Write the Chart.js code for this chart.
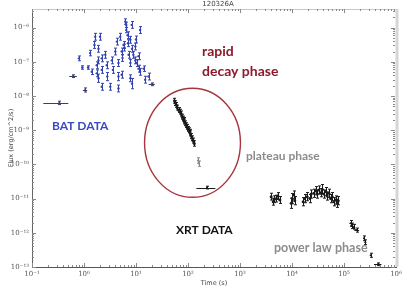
<!DOCTYPE html>
<html>
<head>
<meta charset="utf-8">
<script src="https://cdn.jsdelivr.net/npm/chart.js@4.4.0/dist/chart.umd.min.js"></script>
<style>
html, body { margin: 0; padding: 0; background: #fff; }
#wrap { width: 409px; height: 289px; }
</style>
</head>
<body>
<div id="wrap"><canvas id="grb"></canvas></div>
<script>
// tick decades
var xTickExps = [-1, 0, 1, 2, 3, 4, 5, 6];
var yTickExps = [-13, -12, -11, -10, -9, -8, -7, -6];

// BAT (errors in dex)
var batTime = [0.8, 0.93, 1.2, 1.41, 1.64, 2.04, 1.59, 1.31, 1.9, 1.9, 2.2, 2.57, 1.76, 1.76, 1.9, 2.2, 2.75, 2.8, 3.43, 3.6, 4.0, 4.3, 4.6, 4.97, 4.6, 5.3, 5.75, 6.2, 6.5, 6.5, 6.9, 7.8, 8.4, 7.2, 8.9, 7.8, 9.7, 10.4, 11.2, 12, 8.4, 4.6, 12, 14, 15, 5.3, 3.2, 2.2, 9.7, 11.2, 17.4, 7.8, 8.3, 7.0, 6.0, 5.5, 10];
var batFlux = [1.26e-7, 6.8e-8, 6.8e-8, 5.1e-8, 5.4e-7, 5.4e-7, 3.1e-7, 1.8e-7, 2.4e-7, 1.1e-7, 1.26e-7, 1.6e-7, 7.9e-8, 4.6e-8, 3.3e-8, 5.8e-8, 7.9e-8, 3.7e-8, 1.1e-7, 5.8e-8, 2e-7, 3.9e-7, 9.2e-8, 5.4e-7, 3.7e-8, 2e-7, 3.1e-7, 1.5e-6, 1.2e-6, 8.5e-7, 6e-7, 4.4e-7, 2.4e-7, 1.6e-7, 1.6e-7, 9.2e-8, 1.1e-7, 9.2e-8, 6.3e-8, 8.5e-7, 2.3e-8, 1.66e-8, 5.1e-8, 6.3e-8, 3e-8, 4.2e-8, 1.86e-8, 1.86e-8, 2.8e-7, 1.45e-7, 3.7e-8, 3.3e-8, 1.2e-6, 3.5e-7, 2.6e-7, 1.3e-7, 4.5e-7];
var batErr = [0.07, 0.05, 0.05, 0.08, 0.1, 0.1, 0.1, 0.08, 0.1, 0.1, 0.1, 0.1, 0.1, 0.1, 0.12, 0.1, 0.1, 0.12, 0.1, 0.1, 0.1, 0.1, 0.1, 0.1, 0.12, 0.1, 0.1, 0.08, 0.08, 0.08, 0.1, 0.1, 0.1, 0.1, 0.1, 0.1, 0.1, 0.1, 0.1, 0.1, 0.15, 0.1, 0.1, 0.08, 0.1, 0.1, 0.1, 0.1, 0.1, 0.1, 0.1, 0.1, 0.1, 0.1, 0.1, 0.1, 0.1];

// BAT binned points with time spans
var batBinTime = [0.336, 0.61, 1.05, 20];
var batBinFlux = [6.3e-9, 3.8e-8, 1.5e-8, 2.2e-8];
var batBinErr = [0.05, 0.04, 0.06, 0.04];
var batBinLo = [0.165, 0.52, 0.95, 17.5];
var batBinHi = [0.5, 0.73, 1.15, 23];

// XRT rapid decay
var decTime = [55, 57, 59.6, 62, 65.9, 69, 73.3, 76.6, 80, 82.2, 85, 88.7, 92, 95.6, 99, 102.6, 107, 110.6, 115, 119.4, 125, 132];
var decFlux = [7.3e-9, 6.2e-9, 5.5e-9, 4.6e-9, 3.9e-9, 3.5e-9, 3.1e-9, 2.5e-9, 2.2e-9, 2.0e-9, 1.8e-9, 1.6e-9, 1.4e-9, 1.26e-9, 1.1e-9, 1.0e-9, 9e-10, 8.1e-10, 6.8e-10, 5.8e-10, 5e-10, 4.1e-10];
var decErr = [0.07, 0.07, 0.07, 0.07, 0.07, 0.07, 0.07, 0.07, 0.07, 0.07, 0.07, 0.07, 0.07, 0.07, 0.07, 0.07, 0.07, 0.07, 0.07, 0.07, 0.07, 0.08];

// grey points
var greyTime = [155, 163];
var greyFlux = [1.3e-10, 1.05e-10];
var greyErr = [0.08, 0.08];

// late single bin
var lateTime = [232];
var lateFlux = [2.1e-11];
var lateErr = [0.04];
var lateLo = [145];
var lateHi = [336];

// plateau
var platTime = [3970, 4350, 4600, 5030, 5330, 5830, 9660, 10100, 10800, 11300, 16400, 17400, 19600, 22000, 23400, 26300, 28400, 30600, 32900, 35400, 38200, 41000, 44200, 47600, 51200, 55200, 59400, 63900, 68800, 74300, 77600];
var platFlux = [1.14e-11, 8.1e-12, 9.6e-12, 1.0e-11, 1.19e-11, 9.1e-12, 7.3e-12, 1.0e-11, 1.27e-11, 8.7e-12, 8.1e-12, 1.0e-11, 1.14e-11, 1.0e-11, 1.36e-11, 1.43e-11, 1.7e-11, 1.36e-11, 1.78e-11, 1.49e-11, 1.87e-11, 1.36e-11, 1.6e-11, 1.19e-11, 1.43e-11, 1.0e-11, 1.14e-11, 8.1e-12, 9.1e-12, 7.3e-12, 8.7e-12];
var platErr = [0.1, 0.1, 0.1, 0.1, 0.1, 0.1, 0.15, 0.15, 0.12, 0.12, 0.12, 0.12, 0.12, 0.12, 0.12, 0.12, 0.12, 0.12, 0.12, 0.12, 0.14, 0.12, 0.12, 0.12, 0.12, 0.12, 0.12, 0.12, 0.12, 0.12, 0.12];

// power law
var pwTime = [134000, 140000, 155000, 175000, 242000, 258000, 326000, 450000];
var pwFlux = [1.9e-12, 1.6e-12, 1.5e-12, 1.2e-12, 6.9e-13, 5.3e-13, 2.2e-13, 1.2e-13];
var pwErr = [0.08, 0.08, 0.07, 0.06, 0.07, 0.07, 0.06, 0.04];
var pwLo = [128000, 133000, 146000, 158000, 232000, 248000, 315000, 377000];
var pwHi = [140000, 147000, 165000, 195000, 252000, 268000, 338000, 524000];

// ellipse round the rapid decay (time span, flux span)
var ringTime = [14.6, 1020];
var ringFlux = [1.09e-11, 1.68e-8];

var sup = { '-': '⁻', '0': '⁰', '1': '¹', '2': '²', '3': '³', '4': '⁴', '5': '⁵', '6': '⁶', '7': '⁷', '8': '⁸', '9': '⁹' };
function powLabel(v) {
    var e = Math.round(Math.log10(v));
    return '10' + String(e).split('').map(function (c) { return sup[c]; }).join('');
}

function series(label, t, f, err, lo, hi, color, r) {
    return {
        label: label,
        data: t.map(function (x, i) { return { x: x, y: f[i] }; }),
        err: err, lo: lo, hi: hi,
        showLine: false,
        pointRadius: r,
        pointBorderWidth: 0,
        pointBackgroundColor: color,
        borderColor: color,
        backgroundColor: color
    };
}

var errorBars = {
    id: 'errorBars',
    beforeDatasetsDraw: function (chart) {
        var ctx = chart.ctx, x = chart.scales.x, y = chart.scales.y;
        ctx.save();
        ctx.lineWidth = 1;
        chart.data.datasets.forEach(function (ds) {
            ctx.strokeStyle = ds.borderColor;
            ds.data.forEach(function (p, i) {
                var px = Math.round(x.getPixelForValue(p.x)) + 0.5;
                var py = Math.round(y.getPixelForValue(p.y)) + 0.5;
                var k = Math.pow(10, ds.err[i]);
                var y1 = y.getPixelForValue(p.y / k), y2 = y.getPixelForValue(p.y * k);
                ctx.beginPath();
                ctx.moveTo(px, y1); ctx.lineTo(px, y2);
                ctx.moveTo(px - 1.5, y1); ctx.lineTo(px + 1.5, y1);
                ctx.moveTo(px - 1.5, y2); ctx.lineTo(px + 1.5, y2);
                if (ds.lo) {
                    ctx.moveTo(x.getPixelForValue(ds.lo[i]), py);
                    ctx.lineTo(x.getPixelForValue(ds.hi[i]), py);
                }
                ctx.stroke();
            });
        });
        ctx.restore();
    }
};

var frame = {
    id: 'frame',
    afterDraw: function (chart) {
        var ctx = chart.ctx, a = chart.chartArea, x = chart.scales.x, y = chart.scales.y;
        ctx.save();
        // top and right edges
        ctx.strokeStyle = '#c8c8c8';
        ctx.lineWidth = 1;
        ctx.beginPath(); ctx.moveTo(a.left, a.top + 0.5); ctx.lineTo(a.right, a.top + 0.5); ctx.stroke();
        ctx.lineWidth = 3;
        ctx.strokeStyle = '#d6d6d6';
        ctx.beginPath(); ctx.moveTo(a.right + 1, a.top); ctx.lineTo(a.right + 1, a.bottom); ctx.stroke();
        // inward ticks
        ctx.lineWidth = 1;
        ctx.strokeStyle = '#8a8a8a';
        ctx.beginPath();
        for (var e = xTickExps[0]; e < xTickExps[xTickExps.length - 1]; e++) {
            for (var m = 1; m < 10; m++) {
                var px = Math.round(x.getPixelForValue(m * Math.pow(10, e))) + 0.5;
                var len = m === 1 ? 4 : 2;
                ctx.moveTo(px, a.bottom); ctx.lineTo(px, a.bottom - len);
                ctx.moveTo(px, a.top); ctx.lineTo(px, a.top + len);
            }
        }
        for (var f = yTickExps[0]; f <= yTickExps[yTickExps.length - 1]; f++) {
            for (var n = 1; n < 10; n++) {
                var v = n * Math.pow(10, f);
                if (v > y.max) break;
                var py = Math.round(y.getPixelForValue(v)) + 0.5;
                var l2 = n === 1 ? 4 : 2;
                ctx.moveTo(a.left, py); ctx.lineTo(a.left + l2, py);
                ctx.moveTo(a.right - 1, py); ctx.lineTo(a.right - 1 - l2, py);
            }
        }
        ctx.stroke();
        ctx.restore();
    }
};

var notes = {
    id: 'notes',
    afterDatasetsDraw: function (chart) {
        var ctx = chart.ctx, x = chart.scales.x, y = chart.scales.y;
        ctx.save();
        // ellipse
        var x1 = x.getPixelForValue(ringTime[0]), x2 = x.getPixelForValue(ringTime[1]);
        var y1 = y.getPixelForValue(ringFlux[0]), y2 = y.getPixelForValue(ringFlux[1]);
        ctx.strokeStyle = '#a8343e';
        ctx.lineWidth = 1.4;
        ctx.beginPath();
        ctx.ellipse((x1 + x2) / 2, (y1 + y2) / 2, Math.abs(x2 - x1) / 2, Math.abs(y1 - y2) / 2, 0, 0, Math.PI * 2);
        ctx.stroke();
        // labels
        ctx.textBaseline = 'alphabetic';
        ctx.textAlign = 'left';
        ctx.font = 'bold 14px Lato';
        ctx.fillStyle = '#8b1a2b';
        ctx.fillText('rapid', 202, 56);
        ctx.fillText('decay phase', 202, 76);
        ctx.font = 'bold 12px Lato';
        ctx.fillStyle = '#3a4ac4';
        ctx.fillText('BAT DATA', 52, 130);
        ctx.fillStyle = '#111';
        ctx.fillText('XRT DATA', 176, 234);
        ctx.fillStyle = '#8c8c8c';
        ctx.fillText('plateau phase', 246, 160);
        ctx.font = 'bold 12.5px Lato';
        ctx.fillText('power law phase', 274, 252);
        // title
        ctx.font = '7px "DejaVu Sans"';
        ctx.fillStyle = '#444';
        ctx.textAlign = 'center';
        ctx.textBaseline = 'middle';
        ctx.fillText('120326A', 218, 4);
        ctx.restore();
    }
};

var grey = '#8c8c8c';
var blue = '#3343b0';
var black = '#1a1a1a';

new Chart(document.getElementById('grb'), {
    type: 'scatter',
    data: {
        datasets: [
            series('BAT', batTime, batFlux, batErr, null, null, blue, 1.2),
            series('BAT binned', batBinTime, batBinFlux, batBinErr, batBinLo, batBinHi, '#3a3f70', 1),
            series('XRT decay', decTime, decFlux, decErr, null, null, black, 1.5),
            series('XRT grey', greyTime, greyFlux, greyErr, null, null, grey, 1),
            series('XRT late', lateTime, lateFlux, lateErr, lateLo, lateHi, black, 1),
            series('XRT plateau', platTime, platFlux, platErr, null, null, black, 1.5),
            series('XRT power law', pwTime, pwFlux, pwErr, pwLo, pwHi, black, 1)
        ]
    },
    options: {
        responsive: true,
        maintainAspectRatio: false,
        animation: false,
        devicePixelRatio: 1,
        layout: { padding: { top: 9, right: 13, left: 0, bottom: 0 } },
        plugins: { legend: { display: false }, tooltip: { enabled: false }, title: { display: false } },
        scales: {
            x: {
                type: 'logarithmic',
                position: 'bottom',
                min: 0.1,
                max: 1e6,
                afterBuildTicks: function (s) { s.ticks = xTickExps.map(function (e) { return { value: Math.pow(10, e) }; }); },
                afterFit: function (s) { s.height = 22; },
                ticks: {
                    autoSkip: false, maxRotation: 0, padding: 3,
                    color: '#555', font: { size: 7, family: 'DejaVu Serif' },
                    callback: function (v) { return powLabel(v); }
                },
                grid: { display: false, drawTicks: false },
                border: { display: true, color: '#555', width: 1 },
                title: { display: true, text: 'Time (s)', color: '#444', font: { size: 6.5, family: 'DejaVu Sans' }, padding: { top: 0, bottom: 2 } }
            },
            y: {
                type: 'logarithmic',
                position: 'left',
                min: 1e-13,
                max: 3.5e-6,
                afterBuildTicks: function (s) { s.ticks = yTickExps.map(function (e) { return { value: Math.pow(10, e) }; }); },
                afterFit: function (s) { s.width = 32; },
                ticks: {
                    autoSkip: false, padding: 3,
                    color: '#555', font: { size: 7, family: 'DejaVu Serif' },
                    callback: function (v) { return powLabel(v); }
                },
                grid: { display: false, drawTicks: false },
                border: { display: true, color: '#666', width: 1 },
                title: { display: true, text: 'Flux (erg/cm^2/s)', color: '#444', font: { size: 6.5, family: 'DejaVu Sans' }, padding: { top: 7, bottom: 0 } }
            }
        }
    },
    plugins: [errorBars, notes, frame]
});
</script>
</body>
</html>
